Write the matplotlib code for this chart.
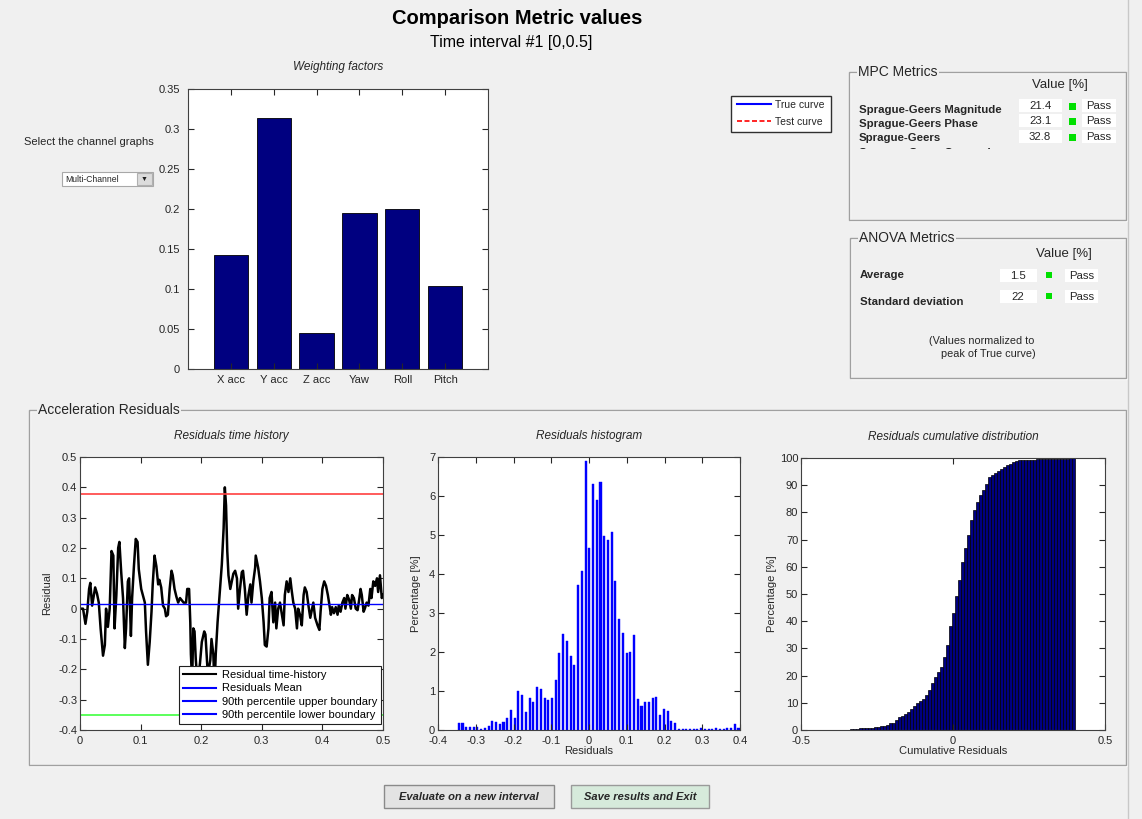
import numpy as np
import matplotlib
matplotlib.use('Agg')
import matplotlib.pyplot as plt
from matplotlib.patches import Rectangle
from matplotlib.lines import Line2D
from matplotlib.transforms import Bbox, TransformedBbox

plt.rcParams['font.family'] = ['Liberation Sans', 'DejaVu Sans']
plt.rcParams['font.size'] = 8

W, H = 1142, 819
BG = '#f0f0f0'
TXT = '#262626'

# weighting factors per channel
channels = ['X acc', 'Y acc', 'Z acc', 'Yaw', 'Roll', 'Pitch']
weights = [0.1425, 0.314, 0.045, 0.195, 0.200, 0.104]

# metric tables
mpc_names = ['Sprague-Geers Magnitude', 'Sprague-Geers Phase', 'Sprague-Geers']
mpc_values = ['21.4', '23.1', '32.8']
anova_names = ['Average', 'Standard deviation']
anova_values = ['1.5', '22']

# residual time history
t = [0.001, 0.005, 0.009, 0.012, 0.015, 0.017, 0.020, 0.023, 0.025, 0.028, 0.031, 0.034, 0.038, 0.041,
     0.043, 0.046, 0.049, 0.052, 0.055, 0.057, 0.060, 0.063, 0.065, 0.068, 0.071, 0.074, 0.076, 0.079,
     0.081, 0.084, 0.086, 0.089, 0.092, 0.095, 0.097, 0.101, 0.107, 0.109, 0.112, 0.115, 0.118, 0.120,
     0.123, 0.126, 0.129, 0.131, 0.134, 0.137, 0.140, 0.142, 0.145, 0.148, 0.151, 0.153, 0.156, 0.159,
     0.162, 0.165, 0.171, 0.175, 0.177, 0.180, 0.182, 0.183, 0.185, 0.187, 0.189, 0.191, 0.194, 0.198,
     0.201, 0.205, 0.207, 0.209, 0.211, 0.215, 0.217, 0.220, 0.222, 0.224, 0.227, 0.230, 0.234, 0.237,
     0.239, 0.241, 0.243, 0.245, 0.248, 0.250, 0.253, 0.256, 0.259, 0.261, 0.264, 0.267, 0.269, 0.272,
     0.275, 0.278, 0.281, 0.283, 0.286, 0.289, 0.290, 0.294, 0.297, 0.300, 0.303, 0.305, 0.308, 0.311,
     0.313, 0.316, 0.319, 0.322, 0.324, 0.327, 0.330, 0.336, 0.338, 0.341, 0.344, 0.347, 0.349, 0.352,
     0.355, 0.358, 0.360, 0.363, 0.366, 0.369, 0.371, 0.374, 0.377, 0.380, 0.382, 0.385, 0.388, 0.392,
     0.395, 0.397, 0.400, 0.403, 0.406, 0.409, 0.411, 0.414, 0.416, 0.419, 0.422, 0.425, 0.427, 0.430,
     0.433, 0.436, 0.438, 0.441, 0.444, 0.447, 0.449, 0.452, 0.455, 0.458, 0.460, 0.463, 0.465, 0.468,
     0.470, 0.473, 0.476, 0.479, 0.481, 0.484, 0.487, 0.490, 0.492, 0.495, 0.498, 0.500]
residual = [0.0, 0.0, -0.05, -0.01, 0.065, 0.085, 0.01, 0.045, 0.07, 0.05, 0.02, -0.065, -0.155, -0.12,
            0.0, -0.06, 0.0, 0.19, 0.175, -0.065, 0.045, 0.20, 0.22, 0.12, 0.035, -0.13, -0.065, 0.09,
            0.10, -0.09, 0.035, 0.14, 0.23, 0.22, 0.13, 0.065, 0.02, -0.075, -0.185, -0.11, -0.01, 0.08,
            0.175, 0.14, 0.08, 0.095, 0.07, 0.01, 0.0, -0.025, -0.02, 0.065, 0.125, 0.11, 0.065, 0.04,
            0.02, 0.035, 0.02, 0.02, 0.065, 0.065, -0.045, -0.15, -0.24, -0.065, -0.075, -0.165, -0.25, -0.18,
            -0.11, -0.075, -0.085, -0.15, -0.22, -0.17, -0.10, -0.15, -0.26, -0.15, -0.045, 0.035, 0.145, 0.265,
            0.40, 0.34, 0.19, 0.11, 0.065, 0.085, 0.115, 0.125, 0.10, 0.0, 0.065, 0.12, 0.125, 0.065,
            -0.02, 0.045, 0.08, 0.02, 0.09, 0.135, 0.175, 0.135, 0.09, 0.035, -0.045, -0.12, -0.125, -0.065,
            0.035, 0.055, -0.045, 0.02, -0.065, 0.0, 0.02, -0.055, 0.045, 0.09, 0.055, 0.10, 0.065, 0.02,
            0.0, -0.065, 0.0, -0.02, -0.055, 0.045, 0.07, 0.055, 0.01, -0.03, -0.01, 0.02, -0.03, -0.055,
            -0.07, -0.01, 0.065, 0.09, 0.075, 0.045, 0.02, -0.02, 0.005, -0.015, 0.005, -0.02, 0.01, -0.01,
            0.02, 0.035, 0.0, 0.045, 0.03, 0.0, 0.045, 0.035, 0.0, -0.005, 0.02, 0.065, 0.045, -0.01,
            0.0, 0.02, 0.01, 0.065, 0.035, 0.09, 0.075, 0.10, 0.055, 0.11, 0.035, 0.045]
res_mean = 0.015
upper_bound = 0.378
lower_bound = -0.349

# histogram of residuals, percentage per bin
hist_pct = [0.17, 0.17, 0.07, 0.07, 0.07, 0.07, 0.03, 0.04, 0.09, 0.23, 0.20, 0.15, 0.20, 0.30, 0.52, 0.30,
            1.00, 0.91, 0.47, 0.83, 0.72, 1.09, 1.04, 0.83, 0.78, 0.83, 1.27, 1.97, 2.46, 2.28, 1.89, 1.66,
            3.72, 4.07, 6.89, 4.67, 6.32, 5.89, 6.37, 4.97, 4.88, 5.08, 3.83, 2.85, 2.50, 1.97, 1.99, 2.43,
            0.79, 0.62, 0.73, 0.71, 0.82, 0.84, 0.38, 0.53, 0.49, 0.22, 0.18, 0.03, 0.02, 0.03, 0.02, 0.03,
            0.02, 0.04, 0.03, 0.02, 0.02, 0.05, 0.02, 0.02, 0.05, 0.05, 0.15, 0.06]
bin_start = -0.345
bin_step = 0.00988


def fx(x):
    return x / W


def fy(y):
    return 1 - y / H


def axes_px(left, top, right, bottom):
    return fig.add_axes([fx(left), fy(bottom), (right - left) / W, (bottom - top) / H])


def style_axes(ax):
    ax.set_facecolor('white')
    ax.tick_params(direction='in', top=True, right=True, length=4, width=0.8,
                   colors=TXT, labelsize=8, pad=2)
    for s in ax.spines.values():
        s.set_color('#404040')
        s.set_linewidth(0.8)


def panel(left, top, right, bottom, title):
    fig.patches.append(Rectangle((fx(left) + 1 / W, fy(bottom) - 1 / H), (right - left) / W, (bottom - top) / H,
                                 transform=fig.transFigure, fill=False, edgecolor='white', lw=1))
    fig.patches.append(Rectangle((fx(left), fy(bottom)), (right - left) / W, (bottom - top) / H,
                                 transform=fig.transFigure, fill=False, edgecolor='#a0a0a0', lw=1))
    fig.text(fx(left + 9), fy(top), title, fontsize=10, color=TXT, va='center', ha='left',
             bbox=dict(facecolor=BG, edgecolor='none', pad=1))


def box_px(left, top, right, bottom, fc, ec='none', lw=0.8):
    fig.patches.append(Rectangle((fx(left), fy(bottom)), (right - left) / W, (bottom - top) / H,
                                 transform=fig.transFigure, facecolor=fc, edgecolor=ec, lw=lw))


fig = plt.figure(figsize=(W / 100, H / 100), dpi=100, facecolor=BG)

fig.text(fx(517), fy(18), 'Comparison Metric values', fontsize=14.5, fontweight='bold', ha='center', va='center')
fig.text(fx(511), fy(42), 'Time interval #1 [0,0.5]', fontsize=11.5, ha='center', va='center')

# channel selector
fig.text(fx(89), fy(142), 'Select the channel graphs', fontsize=8, ha='center', va='center', color=TXT)
box_px(62, 172, 153, 186, 'white', '#a8a8a8')
box_px(137, 173, 152, 185, '#dcdcdc', '#b0b0b0')
fig.text(fx(65), fy(179.5), 'Multi-Channel', fontsize=6.2, ha='left', va='center', color=TXT)
fig.text(fx(144.5), fy(179), '\u25bc', fontsize=5, ha='center', va='center', color='#202020')

# weighting factors
ax_w = axes_px(188, 89, 488, 369)
style_axes(ax_w)
xpos = np.arange(1, len(channels) + 1)
ax_w.bar(xpos, weights, width=0.8, color='#000080', edgecolor='black', lw=0.6)
ax_w.set_xlim(0, 7)
ax_w.set_ylim(0, 0.35)
ax_w.set_xticks(xpos)
ax_w.set_xticklabels(channels)
ax_w.set_yticks(np.arange(0, 0.351, 0.05))
ax_w.set_yticklabels(['0', '0.05', '0.1', '0.15', '0.2', '0.25', '0.3', '0.35'])
ax_w.tick_params(axis='x', pad=4)
ax_w.tick_params(axis='y', pad=6)
ax_w.set_title('Weighting factors', fontsize=8.5, style='italic', color=TXT, pad=14)

# curve legend box
box_px(731, 96, 831, 132, 'white', '#303030', 1.0)
fig.add_artist(Line2D([fx(737), fx(771)], [fy(104), fy(104)], color='blue', lw=1.5))
fig.add_artist(Line2D([fx(737), fx(771)], [fy(121), fy(121)], color='red', lw=1.2, ls=(0, (3, 1.5))))
fig.text(fx(775), fy(105), 'True curve', fontsize=7.5, va='center', color=TXT)
fig.text(fx(775), fy(122), 'Test curve', fontsize=7.5, va='center', color=TXT)

# MPC metrics
panel(849, 72, 1126, 220, 'MPC Metrics')
fig.text(fx(1060), fy(85), 'Value [%]', fontsize=9.5, ha='center', va='center', color=TXT)
row_y = [106, 121, 137]
label_y = [110, 124, 138]
for name, val, ry, ly in zip(mpc_names, mpc_values, row_y, label_y):
    fig.text(fx(859), fy(ly), name, fontsize=8.2, fontweight='bold', va='center', color=TXT)
    box_px(1019, ry - 7, 1062, ry + 6, 'white')
    fig.text(fx(1040), fy(ry), val, fontsize=8.2, ha='center', va='center', color=TXT)
    box_px(1069, ry - 3.5, 1076, ry + 3.5, '#00e000')
    box_px(1082, ry - 7, 1116, ry + 6, 'white')
    fig.text(fx(1099), fy(ry), 'Pass', fontsize=8.2, ha='center', va='center', color=TXT)
cut = fig.text(fx(859), fy(153), 'Sprague-Geers Comprehensive', fontsize=8.2, fontweight='bold',
               va='center', color=TXT, clip_on=True)
cut.set_clip_box(TransformedBbox(Bbox([[fx(850), fy(149)], [fx(1000), fy(145)]]), fig.transFigure))

# ANOVA metrics
panel(850, 238, 1126, 378, 'ANOVA Metrics')
fig.text(fx(1064), fy(254), 'Value [%]', fontsize=9.5, ha='center', va='center', color=TXT)
for name, val, ry, ly in zip(anova_names, anova_values, [276, 297], [275, 302]):
    fig.text(fx(860), fy(ly), name, fontsize=8.2, fontweight='bold', va='center', color=TXT)
    box_px(1000, ry - 7, 1037, ry + 6, 'white')
    fig.text(fx(1018), fy(ry), val, fontsize=8.2, ha='center', va='center', color=TXT)
    box_px(1046, ry - 4, 1052, ry + 2, '#00e000')
    box_px(1065, ry - 7, 1098, ry + 6, 'white')
    fig.text(fx(1082), fy(ry), 'Pass', fontsize=8.2, ha='center', va='center', color=TXT)
fig.text(fx(982), fy(341), '(Values normalized to', fontsize=7.8, ha='center', va='center', color=TXT)
fig.text(fx(988), fy(354), 'peak of True curve)', fontsize=7.8, ha='center', va='center', color=TXT)

# residuals panel
panel(29, 410, 1126, 765, 'Acceleration Residuals')

# time history
ax_t = axes_px(80, 457, 383, 730)
style_axes(ax_t)
ax_t.plot(t, residual, color='black', lw=1.8)
ax_t.axhline(res_mean, color='blue', lw=1)
ax_t.axhline(upper_bound, color='#ff4040', lw=1.2)
ax_t.axhline(lower_bound, color='#40ff40', lw=1.2)
ax_t.set_xlim(0, 0.5)
ax_t.set_ylim(-0.4, 0.5)
ax_t.set_xticks(np.arange(0, 0.51, 0.1))
ax_t.set_xticklabels(['0', '0.1', '0.2', '0.3', '0.4', '0.5'])
ax_t.set_yticks(np.arange(-0.4, 0.51, 0.1))
ax_t.set_yticklabels(['-0.4', '-0.3', '-0.2', '-0.1', '0', '0.1', '0.2', '0.3', '0.4', '0.5'])
ax_t.tick_params(axis='x', pad=4)
ax_t.set_ylabel('Residual', fontsize=8, color=TXT, labelpad=4)
ax_t.set_title('Residuals time history', fontsize=8.5, style='italic', color=TXT, pad=13)
handles = [Line2D([], [], color='black', lw=1.5), Line2D([], [], color='blue', lw=1.5),
           Line2D([], [], color='blue', lw=1.5), Line2D([], [], color='blue', lw=1.5)]
labels = ['Residual time-history', 'Residuals Mean', '90th percentile upper boundary',
          '90th percentile lower boundary']
leg = ax_t.legend(handles, labels, loc='lower right', bbox_to_anchor=(0.993, 0.022), fontsize=8,
                  frameon=True, fancybox=False, framealpha=1, edgecolor='#202020', borderpad=0.35,
                  labelspacing=0.3, handlelength=3.0, handletextpad=0.5, borderaxespad=0)
leg.get_frame().set_linewidth(0.8)

# histogram
centers = bin_start + bin_step * np.arange(len(hist_pct))
ax_h = axes_px(438, 457, 740, 730)
style_axes(ax_h)
ax_h.bar(centers, hist_pct, width=bin_step * 0.55, color='blue', edgecolor='blue', lw=0.3)
ax_h.set_xlim(-0.4, 0.4)
ax_h.set_ylim(0, 7)
ax_h.set_xticks(np.arange(-0.4, 0.41, 0.1))
ax_h.set_xticklabels(['-0.4', '-0.3', '-0.2', '-0.1', '0', '0.1', '0.2', '0.3', '0.4'])
ax_h.set_yticks(range(0, 8))
ax_h.tick_params(axis='x', pad=4)
ax_h.set_xlabel('Residuals', fontsize=8, color=TXT, labelpad=0)
ax_h.set_ylabel('Percentage [%]', fontsize=8, color=TXT, labelpad=6)
ax_h.set_title('Residuals histogram', fontsize=8.5, style='italic', color=TXT, pad=13)

# cumulative distribution from the histogram
cum_pct = np.cumsum(hist_pct)
cum_pct = cum_pct / cum_pct[-1] * 100
ax_c = axes_px(801, 458, 1105, 730)
style_axes(ax_c)
ax_c.bar(centers, cum_pct, width=bin_step, color='#000080', edgecolor='black', lw=0.5)
ax_c.set_xlim(-0.5, 0.5)
ax_c.set_ylim(0, 100)
ax_c.set_xticks([-0.5, 0, 0.5])
ax_c.set_xticklabels(['-0.5', '0', '0.5'])
ax_c.set_yticks(range(0, 101, 10))
ax_c.tick_params(axis='x', pad=4)
ax_c.set_xlabel('Cumulative Residuals', fontsize=8, color=TXT, labelpad=0)
ax_c.set_ylabel('Percentage [%]', fontsize=8, color=TXT, labelpad=2)
ax_c.set_title('Residuals cumulative distribution', fontsize=8.5, style='italic', color=TXT, pad=13)

# buttons
box_px(384, 785, 554, 808, '#e3e3e3', '#8a8a8a', 1)
fig.text(fx(469), fy(797), 'Evaluate on a new interval', fontsize=8, fontweight='bold', style='italic',
         ha='center', va='center', color=TXT)
box_px(571, 785, 709, 808, '#d6eadb', '#9a9a9a', 1)
fig.text(fx(640), fy(797), 'Save results and Exit', fontsize=8, fontweight='bold', style='italic',
         ha='center', va='center', color=TXT)

fig.add_artist(Line2D([fx(1128), fx(1128)], [0, 1], color='#c8c8c8', lw=1))

fig.savefig('out.png', dpi=100, facecolor=BG)
